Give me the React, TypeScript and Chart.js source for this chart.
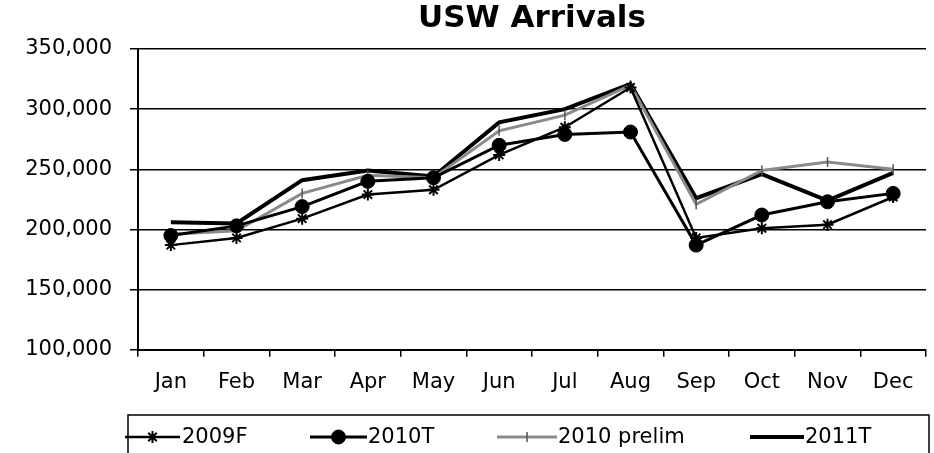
import React, { useEffect, useRef } from "react";
import { Chart, registerables } from "chart.js";
import { drawPoint } from "chart.js/helpers";

Chart.register(...registerables);

const months = ["Jan", "Feb", "Mar", "Apr", "May", "Jun", "Jul", "Aug", "Sep", "Oct", "Nov", "Dec"];
const s2009F = [187000, 193000, 209000, 229000, 233000, 262000, 285000, 318000, 193000, 201000, 204000, 227000];
const s2010T = [195000, 203000, 219000, 240000, 243000, 270000, 279000, 281000, 187000, 212000, 223000, 230000];
const s2010prelim = [196000, 199000, 230000, 245000, 243000, 282000, 295000, 320000, 221000, 249000, 256000, 250000];
const s2011T = [206000, 205000, 241000, 249000, 244000, 289000, 300000, 321000, 226000, 246000, 224000, 247000];
const seriesNames = ["2009F", "2010T", "2010 prelim", "2011T"];
const chartTitle = "USW Arrivals";
const yMin = 100000;
const yMax = 350000;
const yStep = 50000;

const FONT = "DejaVu Sans";

export default function App() {
  const ref = useRef<HTMLCanvasElement>(null);

  useEffect(() => {
    if (!ref.current) return;

    const decor = {
      id: "decor",
      afterDraw(chart: any) {
        const ctx = chart.ctx;
        const area = chart.chartArea;
        ctx.save();
        // title centred over the plot area
        ctx.fillStyle = "#000";
        ctx.font = `bold 31px "${FONT}"`;
        ctx.textAlign = "center";
        ctx.textBaseline = "middle";
        ctx.fillText(chartTitle, (area.left + area.right) / 2, 19);

        // legend box
        ctx.strokeStyle = "#000";
        ctx.lineWidth = 1.5;
        ctx.strokeRect(128, 415, 801, 50);
        const y = 437;
        const layout = [
          { x0: 125, x1: 180, tx: 182 },
          { x0: 310, x1: 367, tx: 368 },
          { x0: 497, x1: 557, tx: 558 },
          { x0: 750, x1: 804, tx: 805 },
        ];
        chart.data.datasets.forEach((ds: any, i: number) => {
          const l = layout[i];
          ctx.strokeStyle = ds.borderColor;
          ctx.lineWidth = ds.borderWidth;
          ctx.beginPath();
          ctx.moveTo(l.x0, y);
          ctx.lineTo(l.x1, y);
          ctx.stroke();
          if (ds.pointRadius > 0) {
            ctx.fillStyle = ds.pointBackgroundColor;
            ctx.strokeStyle = ds.pointBorderColor;
            ctx.lineWidth = ds.pointBorderWidth;
            drawPoint(ctx, { pointStyle: ds.pointStyle, radius: ds.pointRadius, rotation: ds.pointRotation || 0, borderWidth: ds.pointBorderWidth }, (l.x0 + l.x1) / 2, y);
          }
          ctx.fillStyle = "#000";
          ctx.font = `21px "${FONT}"`;
          ctx.textBaseline = "middle";
          ctx.textAlign = "left";
          ctx.fillText(ds.label, l.tx, y + 1);
        });
        ctx.restore();
      },
    };

    const chart = new Chart(ref.current, {
      type: "line",
      data: {
        labels: months,
        datasets: [
          {
            label: seriesNames[0],
            data: s2009F,
            borderColor: "#000",
            borderWidth: 2.5,
            pointStyle: "star",
            pointRadius: 6,
            pointBorderWidth: 2,
            pointBorderColor: "#000",
            pointBackgroundColor: "#000",
          },
          {
            label: seriesNames[1],
            data: s2010T,
            borderColor: "#000",
            borderWidth: 3,
            pointStyle: "circle",
            pointRadius: 7,
            pointBorderWidth: 1,
            pointBorderColor: "#000",
            pointBackgroundColor: "#000",
          },
          {
            label: seriesNames[2],
            data: s2010prelim,
            borderColor: "#8a8a8a",
            borderWidth: 3,
            pointStyle: "line",
            pointRotation: 90,
            pointRadius: 5,
            pointBorderWidth: 1.5,
            pointBorderColor: "#555",
            pointBackgroundColor: "#555",
          },
          {
            label: seriesNames[3],
            data: s2011T,
            borderColor: "#000",
            borderWidth: 4,
            pointRadius: 0,
            pointBorderWidth: 0,
            pointBorderColor: "#000",
            pointBackgroundColor: "#000",
          },
        ],
      },
      options: {
        responsive: false,
        animation: false,
        layout: { padding: { left: 0, right: 7, top: 49, bottom: 45 } },
        elements: { line: { tension: 0 } },
        plugins: {
          legend: { display: false },
          tooltip: { enabled: false },
          title: { display: false },
        },
        scales: {
          x: {
            type: "category",
            offset: true,
            grid: { offset: true, drawOnChartArea: false, drawTicks: true, tickLength: 7, color: "#000", lineWidth: 1.5 },
            border: { display: true, color: "#000", width: 2 },
            ticks: { color: "#000", font: { family: FONT, size: 21 }, padding: 13, maxRotation: 0, autoSkip: false },
          },
          y: {
            min: yMin,
            max: yMax,
            grid: { color: "#000", lineWidth: 1.5, tickLength: 8 },
            border: { display: true, color: "#000", width: 2 },
            ticks: {
              stepSize: yStep,
              color: "#000",
              font: { family: FONT, size: 21 },
              padding: 18,
              callback: (v: any) => Number(v).toLocaleString("en-US"),
            },
            afterFit: (scale: any) => {
              scale.width = 138;
            },
          },
        },
      },
      plugins: [decor],
    });

    return () => chart.destroy();
  }, []);

  return (
    <div style={{ position: "absolute", left: 0, top: 0, width: 934, height: 453, background: "#fff" }}>
      <canvas ref={ref} width={934} height={453} />
    </div>
  );
}
